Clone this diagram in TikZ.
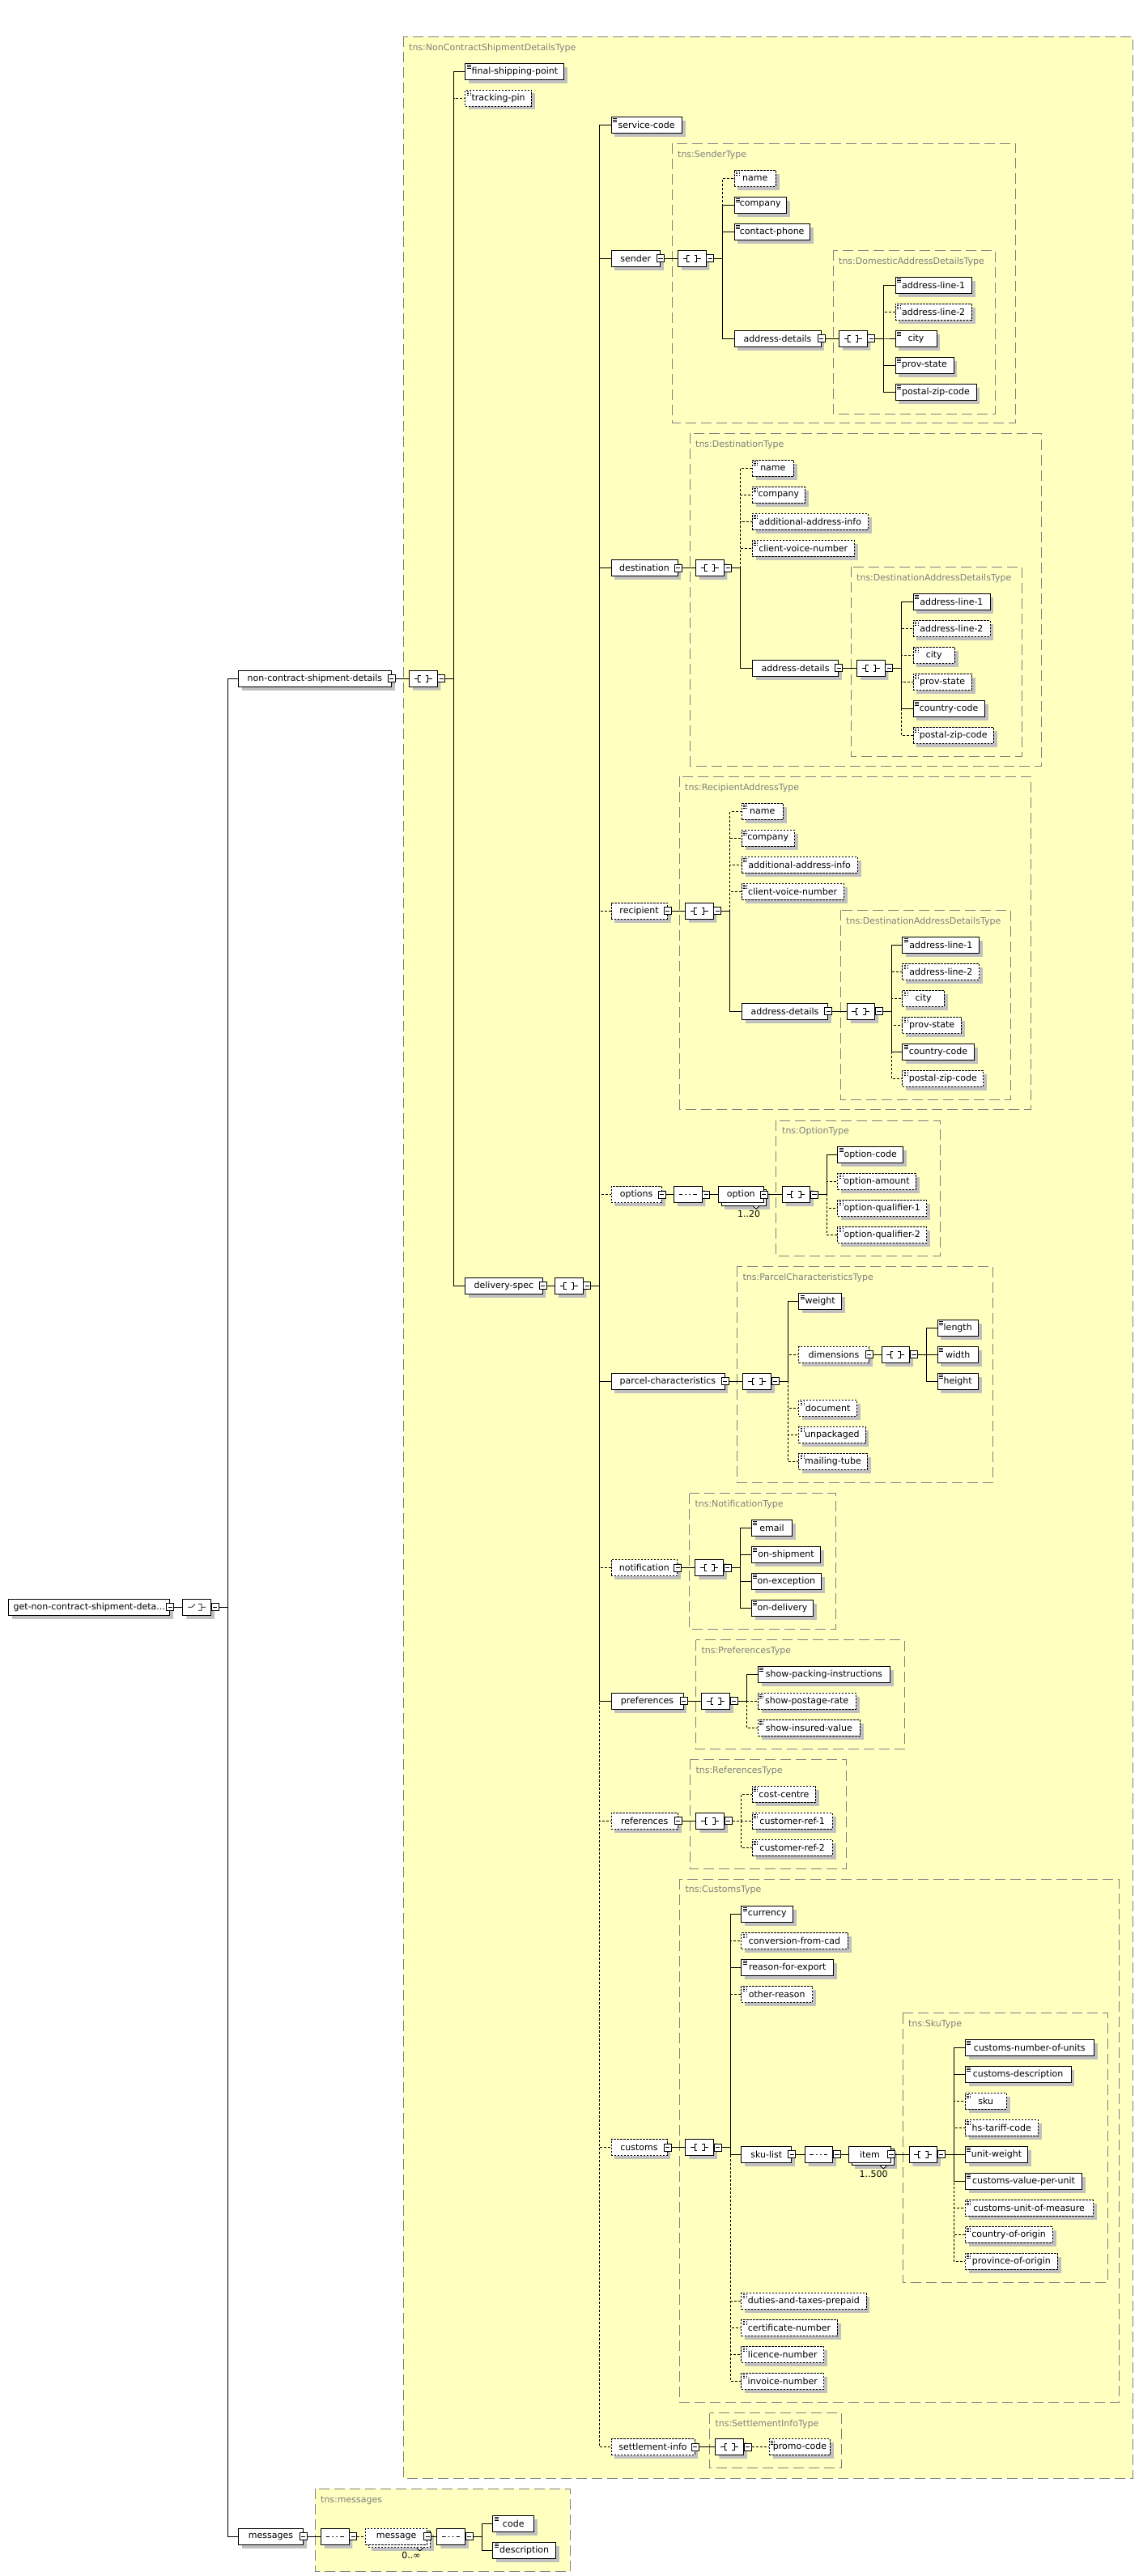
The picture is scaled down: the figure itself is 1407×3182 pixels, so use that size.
\documentclass[tikz,border=0pt]{standalone}
\usepackage{fontspec}
\setmainfont{DejaVu Sans}
\usepackage{xcolor}
\usepackage{tikz}
\usetikzlibrary{shapes.misc,shadows}
\definecolor{xsdyellow}{HTML}{FFFFC0}
\definecolor{xsdgray}{HTML}{808080}
\definecolor{xsdshade}{HTML}{C0C0C0}
\newcommand\xsdfont{\fontsize{11}{13}\selectfont}
\newcommand\leafmark{%
  \draw[line width=0.7pt] ([shift={(2pt,-2.2pt)}]path picture bounding box.north west) -- ++(5pt,0pt)
    ([shift={(2pt,-4.2pt)}]path picture bounding box.north west) -- ++(5pt,0pt)
    ([shift={(2pt,-6.2pt)}]path picture bounding box.north west) -- ++(5pt,0pt);}
\newcommand\togmark{%
  \draw[line width=0.8pt] ([xshift=-2.6pt]path picture bounding box.center) -- ([xshift=2.6pt]path picture bounding box.center);}
\newcommand\allglyph{%
  \begin{scope}[shift={(path picture bounding box.center)},x=1pt,y=1pt,line width=0.8pt]
    \draw (-11,0) -- (-6,0) (-3,4) -- (-6,4) -- (-6,-4) -- (-3,-4) (3,4) -- (6,4) -- (6,-4) -- (3,-4) (6,0) -- (11,0);
    \fill (-1.3,2.3) rectangle (1.3,4.9) (-1.3,-1.3) rectangle (1.3,1.3) (-1.3,-2.3) rectangle (1.3,-4.9);
  \end{scope}}
\newcommand\seqglyph{%
  \begin{scope}[shift={(path picture bounding box.center)},x=1pt,y=1pt,line width=0.8pt]
    \draw (-11,0) -- (11,0);
    \fill (-6.5,-1.6) rectangle (-3.3,1.6) (-1.6,-1.6) rectangle (1.6,1.6) (3.3,-1.6) rectangle (6.5,1.6);
  \end{scope}}
\newcommand\choiceglyph{%
  \begin{scope}[shift={(path picture bounding box.center)},x=1pt,y=1pt,line width=0.8pt]
    \draw (-11,0) -- (-6,0) -- (-2,4) (2,4) -- (6,4) -- (6,-4) -- (2,-4) (6,0) -- (11,0);
    \fill (-1,2.6) rectangle (1.6,5.2) (-1,-1.3) rectangle (1.6,1.3) (-1,-2.6) rectangle (1.6,-5.2);
  \end{scope}}
\begin{document}
\begin{tikzpicture}[
  x=1pt,y=-1pt,
  font=\xsdfont,
  elbox/.style={draw,fill=white,line width=0.9pt,minimum height=20pt,inner sep=0pt,anchor=west},
  elem/.style={elbox,drop shadow={shadow xshift=4.5pt,shadow yshift=-4.5pt,fill=xsdshade,opacity=1}},
  leaf/.style={elem,path picture={\leafmark}},
  optbox/.style={dash pattern=on 2.5pt off 1.5pt},
  tog/.style={draw,fill=white,line width=0.8pt,minimum size=9pt,inner sep=0pt,path picture={\togmark}},
  compo/.style={chamfered rectangle,chamfered rectangle xsep=5pt,chamfered rectangle ysep=5pt,draw,fill=white,line width=0.9pt,minimum width=34.5pt,minimum height=20pt,inner sep=0pt,anchor=west,drop shadow={shadow xshift=4.5pt,shadow yshift=-4.5pt,fill=xsdshade,opacity=1}},
  allc/.style={compo,path picture={\allglyph}},
  seqc/.style={compo,path picture={\seqglyph}},
  choc/.style={compo,path picture={\choiceglyph}},
  tbox/.style={draw=xsdgray,fill=xsdyellow,line width=0.9pt,dash pattern=on 13pt off 6pt},
  tlab/.style={anchor=west,text=xsdgray,inner sep=0pt},
  occ/.style={inner sep=0pt},
  link/.style={line width=0.9pt},
  olink/.style={link,dash pattern=on 3pt off 2pt}
]
\useasboundingbox (0,0) rectangle (1407,3182);
\fill[white] (0,0) rectangle (1407,3182);
\draw[tbox] (498,45) rectangle (1399,3061);
\node[tlab] (ty-ncsd) at (505,59) {tns:NonContractShipmentDetailsType};
\draw[tbox] (830.5,177) rectangle (1254.5,522);
\node[tlab] (ty-snd) at (837,191) {tns:SenderType};
\draw[tbox] (1029,309) rectangle (1229,511);
\node[tlab] (ty-sa) at (1036,323) {tns:DomesticAddressDetailsType};
\draw[tbox] (852.6,535) rectangle (1286.5,946);
\node[tlab] (ty-dst) at (859,549) {tns:DestinationType};
\draw[tbox] (1051,700) rectangle (1262,934);
\node[tlab] (ty-da) at (1058,714) {tns:DestinationAddressDetailsType};
\draw[tbox] (839.6,959) rectangle (1273,1370);
\node[tlab] (ty-rcp) at (846,973) {tns:RecipientAddressType};
\draw[tbox] (1038,1124) rectangle (1248.7,1358);
\node[tlab] (ty-ra) at (1045,1138) {tns:DestinationAddressDetailsType};
\draw[tbox] (958,1384) rectangle (1161,1551);
\node[tlab] (ty-opt) at (966,1397) {tns:OptionType};
\draw[tbox] (910.5,1564) rectangle (1226.4,1831);
\node[tlab] (ty-pcl) at (917.4,1578) {tns:ParcelCharacteristicsType};
\draw[tbox] (851.7,1844.7) rectangle (1032.3,2012.3);
\node[tlab] (ty-ntf) at (858.3,1858.3) {tns:NotificationType};
\draw[tbox] (859.7,2025.7) rectangle (1117.3,2160.3);
\node[tlab] (ty-prf) at (866.3,2039.3) {tns:PreferencesType};
\draw[tbox] (852.3,2173.3) rectangle (1045.7,2308.3);
\node[tlab] (ty-rfs) at (859.3,2187) {tns:ReferencesType};
\draw[tbox] (839.3,2321.3) rectangle (1382.5,2967.3);
\node[tlab] (ty-cst) at (846.3,2335) {tns:CustomsType};
\draw[tbox] (1115.4,2486.7) rectangle (1368.6,2819.3);
\node[tlab] (ty-sku) at (1122,2500) {tns:SkuType};
\draw[tbox] (876.7,2980.7) rectangle (1039.3,3048.7);
\node[tlab] (ty-stl) at (883.3,2994.3) {tns:SettlementInfoType};
\draw[tbox] (389.3,3074.3) rectangle (704.3,3176.7);
\node[tlab] (ty-msgs) at (396,3088.3) {tns:messages};

\node[elem,minimum width=199pt] (root) at (10.3,1985.3) {get-non-contract-shipment-deta...};
\node[tog] (root-t) at (root.east) {};
\node[choc] (root-c) at (225.3,1985.3) {};
\node[tog,anchor=west] (root-ct) at (root-c.east) {};

\node[elem,minimum width=188.4pt] (ncsd) at (294.3,838) {non-contract-shipment-details};
\node[tog] (ncsd-t) at (ncsd.east) {};
\node[allc] (ncsd-c) at (505,838) {};
\node[tog,anchor=west] (ncsd-ct) at (ncsd-c.east) {};
\node[leaf,minimum width=122pt] (fsp) at (574.4,88.5) {final-shipping-point};
\node[leaf,optbox,minimum width=81.6pt] (trk) at (574.4,121) {tracking-pin};
\node[elem,minimum width=95.1pt] (ds) at (574.4,1588.3) {delivery-spec};
\node[tog] (ds-t) at (ds.east) {};
\node[allc] (ds-c) at (685,1588.3) {};
\node[tog,anchor=west] (ds-ct) at (ds-c.east) {};

\node[leaf,minimum width=87.2pt] (svc) at (754.5,154) {service-code};
\node[elem,minimum width=60.5pt] (snd) at (754.5,319) {sender};
\node[tog] (snd-t) at (snd.east) {};
\node[elem,minimum width=82pt] (dst) at (754.5,701.7) {destination};
\node[tog] (dst-t) at (dst.east) {};
\node[elem,optbox,minimum width=69.3pt] (rcp) at (754.5,1125) {recipient};
\node[tog] (rcp-t) at (rcp.east) {};
\node[elem,optbox,minimum width=62.4pt] (opts) at (754.5,1475.7) {options};
\node[tog] (opts-t) at (opts.east) {};
\node[elem,minimum width=140pt] (pcl) at (754.5,1706.3) {parcel-characteristics};
\node[tog] (pcl-t) at (pcl.east) {};
\node[elem,optbox,minimum width=81.7pt] (ntf) at (754.5,1936.7) {notification};
\node[tog] (ntf-t) at (ntf.east) {};
\node[elem,minimum width=89pt] (prf) at (754.5,2101.3) {preferences};
\node[tog] (prf-t) at (prf.east) {};
\node[elem,optbox,minimum width=82.4pt] (rfs) at (754.5,2249.3) {references};
\node[tog] (rfs-t) at (rfs.east) {};
\node[elem,optbox,minimum width=69pt] (cst) at (754.5,2652.7) {customs};
\node[tog] (cst-t) at (cst.east) {};
\node[elem,optbox,minimum width=103pt] (stl) at (754.5,3022.7) {settlement-info};
\node[tog] (stl-t) at (stl.east) {};

\node[allc] (snd-c) at (837,319) {};
\node[tog,anchor=west] (snd-ct) at (snd-c.east) {};
\node[leaf,optbox,minimum width=51.5pt] (snd-name) at (906.5,220) {name};
\node[leaf,minimum width=64.5pt] (snd-comp) at (906.5,253) {company};
\node[leaf,minimum width=93.5pt] (snd-tel) at (906.5,286) {contact-phone};
\node[elem,minimum width=107pt] (snd-adr) at (906.5,418) {address-details};
\node[tog] (snd-adr-t) at (snd-adr.east) {};
\node[allc] (snd-adr-c) at (1036,418) {};
\node[tog,anchor=west] (snd-adr-ct) at (snd-adr-c.east) {};
\node[leaf,minimum width=94.5pt] (sa-l1) at (1105.5,352) {address-line-1};
\node[leaf,optbox,minimum width=94.5pt] (sa-l2) at (1105.5,385) {address-line-2};
\node[leaf,minimum width=51pt] (sa-city) at (1105.5,418) {city};
\node[leaf,minimum width=72pt] (sa-prov) at (1105.5,451) {prov-state};
\node[leaf,minimum width=100pt] (sa-zip) at (1105.5,484) {postal-zip-code};

\node[allc] (dst-c) at (859,701.7) {};
\node[tog,anchor=west] (dst-ct) at (dst-c.east) {};
\node[leaf,optbox,minimum width=51.2pt] (dst-name) at (928.8,578.3) {name};
\node[leaf,optbox,minimum width=65.2pt] (dst-comp) at (928.8,611.3) {company};
\node[leaf,optbox,minimum width=143pt] (dst-info) at (928.8,644.3) {additional-address-info};
\node[leaf,optbox,minimum width=126pt] (dst-cvn) at (928.8,677.3) {client-voice-number};
\node[elem,minimum width=106.6pt] (dst-adr) at (928.8,825.3) {address-details};
\node[tog] (dst-adr-t) at (dst-adr.east) {};
\node[allc] (dst-adr-c) at (1058,825.3) {};
\node[tog,anchor=west] (dst-adr-ct) at (dst-adr-c.east) {};
\node[leaf,minimum width=95pt] (da-l1) at (1127.5,743.3) {address-line-1};
\node[leaf,optbox,minimum width=95pt] (da-l2) at (1127.5,776.3) {address-line-2};
\node[leaf,optbox,minimum width=51.5pt] (da-city) at (1127.5,809.3) {city};
\node[leaf,optbox,minimum width=72.5pt] (da-prov) at (1127.5,842.3) {prov-state};
\node[leaf,minimum width=88.2pt] (da-ctry) at (1127.5,875.3) {country-code};
\node[leaf,optbox,minimum width=99.5pt] (da-zip) at (1127.5,908.3) {postal-zip-code};

\node[allc] (rcp-c) at (846,1125) {};
\node[tog,anchor=west] (rcp-ct) at (rcp-c.east) {};
\node[leaf,optbox,minimum width=51.3pt] (rcp-name) at (915.7,1002.3) {name};
\node[leaf,optbox,minimum width=65pt] (rcp-comp) at (915.7,1035.3) {company};
\node[leaf,optbox,minimum width=143pt] (rcp-info) at (915.7,1068.3) {additional-address-info};
\node[leaf,optbox,minimum width=126pt] (rcp-cvn) at (915.7,1101.3) {client-voice-number};
\node[elem,minimum width=106.6pt] (rcp-adr) at (915.7,1249.3) {address-details};
\node[tog] (rcp-adr-t) at (rcp-adr.east) {};
\node[allc] (rcp-adr-c) at (1045.6,1249.3) {};
\node[tog,anchor=west] (rcp-adr-ct) at (rcp-adr-c.east) {};
\node[leaf,minimum width=95pt] (ra-l1) at (1114.4,1167.3) {address-line-1};
\node[leaf,optbox,minimum width=95pt] (ra-l2) at (1114.4,1200.3) {address-line-2};
\node[leaf,optbox,minimum width=51.5pt] (ra-city) at (1114.4,1233.3) {city};
\node[leaf,optbox,minimum width=72.5pt] (ra-prov) at (1114.4,1266.3) {prov-state};
\node[leaf,minimum width=88.2pt] (ra-ctry) at (1114.4,1299.3) {country-code};
\node[leaf,optbox,minimum width=100pt] (ra-zip) at (1114.4,1332.3) {postal-zip-code};

\node[seqc] (opts-c) at (832,1475.7) {};
\node[tog,anchor=west] (opts-ct) at (opts-c.east) {};
\node[elem,minimum width=55.7pt] (opt-b) at (890.5,1479.2) {};
\draw[link,fill=white] ([xshift=-17pt]opt-b.south east) -- ++(4,3.5) -- ++(4,-3.5);
\node[elbox,minimum width=55.7pt] (opt) at (887,1475.7) {option};
\node[tog] (opt-t) at (opt.east) {};
\node[occ] (opt-n) at (925,1499) {1..20};
\node[allc] (opt-c) at (965.7,1475.7) {};
\node[tog,anchor=west] (opt-ct) at (opt-c.east) {};
\node[leaf,minimum width=81pt] (opt-code) at (1034.3,1426.3) {option-code};
\node[leaf,optbox,minimum width=96.4pt] (opt-amt) at (1034.3,1459.3) {option-amount};
\node[leaf,optbox,minimum width=110pt] (opt-q1) at (1034.3,1492.3) {option-qualifier-1};
\node[leaf,optbox,minimum width=110pt] (opt-q2) at (1034.3,1525.3) {option-qualifier-2};

\node[allc] (pcl-c) at (917.4,1706.3) {};
\node[tog,anchor=west] (pcl-ct) at (pcl-c.east) {};
\node[leaf,minimum width=52.7pt] (pcl-wt) at (986.3,1607.7) {weight};
\node[elem,optbox,minimum width=86.3pt] (dim) at (986.3,1673.3) {dimensions};
\node[tog] (dim-t) at (dim.east) {};
\node[leaf,optbox,minimum width=71.7pt] (pcl-doc) at (986.3,1739.3) {document};
\node[leaf,optbox,minimum width=82.2pt] (pcl-unp) at (986.3,1772.3) {unpackaged};
\node[leaf,optbox,minimum width=84.5pt] (pcl-tube) at (986.3,1805.3) {mailing-tube};
\node[allc] (dim-c) at (1088.7,1673.3) {};
\node[tog,anchor=west] (dim-ct) at (dim-c.east) {};
\node[leaf,minimum width=50.5pt] (dim-l) at (1157.5,1640.3) {length};
\node[leaf,minimum width=50.5pt] (dim-w) at (1157.5,1673.3) {width};
\node[leaf,minimum width=50.5pt] (dim-h) at (1157.5,1706.3) {height};

\node[allc] (ntf-c) at (858.3,1936.7) {};
\node[tog,anchor=west] (ntf-ct) at (ntf-c.east) {};
\node[leaf,minimum width=50.6pt] (ntf-mail) at (927.7,1887.3) {email};
\node[leaf,minimum width=85.6pt] (ntf-shp) at (927.7,1920.3) {on-shipment};
\node[leaf,minimum width=86.6pt] (ntf-exc) at (927.7,1953.3) {on-exception};
\node[leaf,minimum width=76.6pt] (ntf-dlv) at (927.7,1986.3) {on-delivery};

\node[allc] (prf-c) at (866.3,2101.3) {};
\node[tog,anchor=west] (prf-ct) at (prf-c.east) {};
\node[leaf,minimum width=163.6pt] (prf-pack) at (935.7,2068.3) {show-packing-instructions};
\node[leaf,optbox,minimum width=121pt] (prf-rate) at (935.7,2101.3) {show-postage-rate};
\node[leaf,optbox,minimum width=126.3pt] (prf-ins) at (935.7,2134.3) {show-insured-value};

\node[allc] (rfs-c) at (859.3,2249.3) {};
\node[tog,anchor=west] (rfs-ct) at (rfs-c.east) {};
\node[leaf,optbox,minimum width=78.6pt] (rfs-cc) at (928.7,2216.3) {cost-centre};
\node[leaf,optbox,minimum width=99pt] (rfs-r1) at (928.7,2249.3) {customer-ref-1};
\node[leaf,optbox,minimum width=99pt] (rfs-r2) at (928.7,2282.3) {customer-ref-2};

\node[allc] (cst-c) at (846.4,2652.7) {};
\node[tog,anchor=west] (cst-ct) at (cst-c.east) {};
\node[leaf,minimum width=64pt] (cst-cur) at (915.3,2364.3) {currency};
\node[leaf,optbox,minimum width=131.4pt] (cst-conv) at (915.3,2397.3) {conversion-from-cad};
\node[leaf,minimum width=114pt] (cst-rsn) at (915.3,2430.3) {reason-for-export};
\node[leaf,optbox,minimum width=88pt] (cst-oth) at (915.3,2463.3) {other-reason};
\node[elem,minimum width=62pt] (skul) at (915.3,2661.3) {sku-list};
\node[tog] (skul-t) at (skul.east) {};
\node[leaf,optbox,minimum width=154.2pt] (cst-dtp) at (915.3,2842.3) {duties-and-taxes-prepaid};
\node[leaf,optbox,minimum width=118.4pt] (cst-cert) at (915.3,2875.3) {certificate-number};
\node[leaf,optbox,minimum width=102pt] (cst-lic) at (915.3,2908.3) {licence-number};
\node[leaf,optbox,minimum width=102pt] (cst-inv) at (915.3,2941.3) {invoice-number};
\node[seqc] (skul-c) at (993.6,2661.3) {};
\node[tog,anchor=west] (skul-ct) at (skul-c.east) {};
\node[elem,minimum width=52pt] (item-b) at (1051.5,2664.8) {};
\draw[link,fill=white] ([xshift=-17pt]item-b.south east) -- ++(4,3.5) -- ++(4,-3.5);
\node[elbox,minimum width=52pt] (item) at (1048,2661.3) {item};
\node[tog] (item-t) at (item.east) {};
\node[occ] (item-n) at (1079,2685) {1..500};
\node[allc] (item-c) at (1122.5,2661.3) {};
\node[tog,anchor=west] (item-ct) at (item-c.east) {};
\node[leaf,minimum width=159pt] (sku-nou) at (1191.8,2529.3) {customs-number-of-units};
\node[leaf,minimum width=130.7pt] (sku-desc) at (1191.8,2562.3) {customs-description};
\node[leaf,optbox,minimum width=51pt] (sku-sku) at (1191.8,2595.3) {sku};
\node[leaf,optbox,minimum width=90pt] (sku-hs) at (1191.8,2628.3) {hs-tariff-code};
\node[leaf,minimum width=77.5pt] (sku-uw) at (1191.8,2661.3) {unit-weight};
\node[leaf,minimum width=144.6pt] (sku-vpu) at (1191.8,2694.3) {customs-value-per-unit};
\node[leaf,optbox,minimum width=157.8pt] (sku-uom) at (1191.8,2727.3) {customs-unit-of-measure};
\node[leaf,optbox,minimum width=107.8pt] (sku-coo) at (1191.8,2760.3) {country-of-origin};
\node[leaf,optbox,minimum width=114.2pt] (sku-poo) at (1191.8,2793.3) {province-of-origin};

\node[allc] (stl-c) at (883.3,3022.7) {};
\node[tog,anchor=west] (stl-ct) at (stl-c.east) {};
\node[leaf,optbox,minimum width=75pt] (stl-promo) at (950,3022.7) {promo-code};

\node[elem,minimum width=79.4pt] (msgs) at (294.3,3133.3) {messages};
\node[tog] (msgs-t) at (msgs.east) {};
\node[seqc] (msgs-c) at (396,3133.3) {};
\node[tog,anchor=west] (msgs-ct) at (msgs-c.east) {};
\node[elem,optbox,minimum width=76.3pt] (msg-b) at (454.5,3136.8) {};
\draw[link,fill=white] ([xshift=-17pt]msg-b.south east) -- ++(4,3.5) -- ++(4,-3.5);
\node[elbox,optbox,minimum width=76.3pt] (msg) at (451,3133.3) {message};
\node[tog] (msg-t) at (msg.east) {};
\node[occ] (msg-n) at (508,3156.7) {0..∞};
\node[seqc] (msg-c) at (539.3,3133.3) {};
\node[tog,anchor=west] (msg-ct) at (msg-c.east) {};
\node[leaf,minimum width=51pt] (msg-code) at (608.3,3117.3) {code};
\node[leaf,minimum width=77.7pt] (msg-desc) at (608.3,3150.3) {description};

\draw[link] (root-t) -- (root-c);
\draw[link] (root-ct.east) -- ++(10.5,0) |- (ncsd.west);
\draw[link] (root-ct.east) -- ++(10.5,0) |- (msgs.west);

\draw[link] (ncsd-t) -- (ncsd-c);
\draw[olink] (ncsd-ct.east) -- ++(10.5,0) |- (trk.west);
\draw[link] (ncsd-ct.east) -- ++(10.5,0) |- (fsp.west);
\draw[link] (ncsd-ct.east) -- ++(10.5,0) |- (ds.west);

\draw[link] (ds-t) -- (ds-c);
\draw[olink] (ds-ct.east) -- ++(10.5,0) |- (rcp.west);
\draw[olink] (ds-ct.east) -- ++(10.5,0) |- (opts.west);
\draw[olink] (ds-ct.east) -- ++(10.5,0) |- (ntf.west);
\draw[olink] (ds-ct.east) -- ++(10.5,0) |- (rfs.west);
\draw[olink] (ds-ct.east) -- ++(10.5,0) |- (cst.west);
\draw[olink] (ds-ct.east) -- ++(10.5,0) |- (stl.west);
\draw[link] (ds-ct.east) -- ++(10.5,0) |- (svc.west);
\draw[link] (ds-ct.east) -- ++(10.5,0) |- (snd.west);
\draw[link] (ds-ct.east) -- ++(10.5,0) |- (dst.west);
\draw[link] (ds-ct.east) -- ++(10.5,0) |- (pcl.west);
\draw[link] (ds-ct.east) -- ++(10.5,0) |- (prf.west);

\draw[link] (snd-t) -- (snd-c);
\draw[olink] (snd-ct.east) -- ++(10.5,0) |- (snd-name.west);
\draw[link] (snd-ct.east) -- ++(10.5,0) |- (snd-comp.west);
\draw[link] (snd-ct.east) -- ++(10.5,0) |- (snd-tel.west);
\draw[link] (snd-ct.east) -- ++(10.5,0) |- (snd-adr.west);
\draw[link] (snd-adr-t) -- (snd-adr-c);
\draw[olink] (snd-adr-ct.east) -- ++(10.5,0) |- (sa-l2.west);
\draw[link] (snd-adr-ct.east) -- ++(10.5,0) |- (sa-l1.west);
\draw[link] (snd-adr-ct.east) -- ++(10.5,0) |- (sa-city.west);
\draw[link] (snd-adr-ct.east) -- ++(10.5,0) |- (sa-prov.west);
\draw[link] (snd-adr-ct.east) -- ++(10.5,0) |- (sa-zip.west);

\draw[link] (dst-t) -- (dst-c);
\draw[olink] (dst-ct.east) -- ++(10.5,0) |- (dst-name.west);
\draw[olink] (dst-ct.east) -- ++(10.5,0) |- (dst-comp.west);
\draw[olink] (dst-ct.east) -- ++(10.5,0) |- (dst-info.west);
\draw[olink] (dst-ct.east) -- ++(10.5,0) |- (dst-cvn.west);
\draw[link] (dst-ct.east) -- ++(10.5,0) |- (dst-adr.west);
\draw[link] (dst-adr-t) -- (dst-adr-c);
\draw[olink] (dst-adr-ct.east) -- ++(10.5,0) |- (da-l2.west);
\draw[olink] (dst-adr-ct.east) -- ++(10.5,0) |- (da-city.west);
\draw[olink] (dst-adr-ct.east) -- ++(10.5,0) |- (da-prov.west);
\draw[olink] (dst-adr-ct.east) -- ++(10.5,0) |- (da-zip.west);
\draw[link] (dst-adr-ct.east) -- ++(10.5,0) |- (da-l1.west);
\draw[link] (dst-adr-ct.east) -- ++(10.5,0) |- (da-ctry.west);

\draw[link] (rcp-t) -- (rcp-c);
\draw[olink] (rcp-ct.east) -- ++(10.5,0) |- (rcp-name.west);
\draw[olink] (rcp-ct.east) -- ++(10.5,0) |- (rcp-comp.west);
\draw[olink] (rcp-ct.east) -- ++(10.5,0) |- (rcp-info.west);
\draw[olink] (rcp-ct.east) -- ++(10.5,0) |- (rcp-cvn.west);
\draw[link] (rcp-ct.east) -- ++(10.5,0) |- (rcp-adr.west);
\draw[link] (rcp-adr-t) -- (rcp-adr-c);
\draw[olink] (rcp-adr-ct.east) -- ++(10.5,0) |- (ra-l2.west);
\draw[olink] (rcp-adr-ct.east) -- ++(10.5,0) |- (ra-city.west);
\draw[olink] (rcp-adr-ct.east) -- ++(10.5,0) |- (ra-prov.west);
\draw[olink] (rcp-adr-ct.east) -- ++(10.5,0) |- (ra-zip.west);
\draw[link] (rcp-adr-ct.east) -- ++(10.5,0) |- (ra-l1.west);
\draw[link] (rcp-adr-ct.east) -- ++(10.5,0) |- (ra-ctry.west);

\draw[link] (opts-t) -- (opts-c);
\draw[link] (opts-ct) -- (opt);
\draw[link] (opt-t) -- (opt-c);
\draw[olink] (opt-ct.east) -- ++(10.5,0) |- (opt-amt.west);
\draw[olink] (opt-ct.east) -- ++(10.5,0) |- (opt-q1.west);
\draw[olink] (opt-ct.east) -- ++(10.5,0) |- (opt-q2.west);
\draw[link] (opt-ct.east) -- ++(10.5,0) |- (opt-code.west);

\draw[link] (pcl-t) -- (pcl-c);
\draw[olink] (pcl-ct.east) -- ++(10.5,0) |- (dim.west);
\draw[olink] (pcl-ct.east) -- ++(10.5,0) |- (pcl-doc.west);
\draw[olink] (pcl-ct.east) -- ++(10.5,0) |- (pcl-unp.west);
\draw[olink] (pcl-ct.east) -- ++(10.5,0) |- (pcl-tube.west);
\draw[link] (pcl-ct.east) -- ++(10.5,0) |- (pcl-wt.west);
\draw[link] (dim-t) -- (dim-c);
\draw[link] (dim-ct.east) -- ++(10.5,0) |- (dim-l.west);
\draw[link] (dim-ct.east) -- ++(10.5,0) |- (dim-w.west);
\draw[link] (dim-ct.east) -- ++(10.5,0) |- (dim-h.west);

\draw[link] (ntf-t) -- (ntf-c);
\draw[link] (ntf-ct.east) -- ++(10.5,0) |- (ntf-mail.west);
\draw[link] (ntf-ct.east) -- ++(10.5,0) |- (ntf-shp.west);
\draw[link] (ntf-ct.east) -- ++(10.5,0) |- (ntf-exc.west);
\draw[link] (ntf-ct.east) -- ++(10.5,0) |- (ntf-dlv.west);

\draw[link] (prf-t) -- (prf-c);
\draw[olink] (prf-ct.east) -- ++(10.5,0) |- (prf-rate.west);
\draw[olink] (prf-ct.east) -- ++(10.5,0) |- (prf-ins.west);
\draw[link] (prf-ct.east) -- ++(10.5,0) |- (prf-pack.west);

\draw[link] (rfs-t) -- (rfs-c);
\draw[olink] (rfs-ct.east) -- ++(10.5,0) |- (rfs-cc.west);
\draw[olink] (rfs-ct.east) -- ++(10.5,0) |- (rfs-r1.west);
\draw[olink] (rfs-ct.east) -- ++(10.5,0) |- (rfs-r2.west);

\draw[link] (cst-t) -- (cst-c);
\draw[olink] (cst-ct.east) -- ++(10.5,0) |- (cst-conv.west);
\draw[olink] (cst-ct.east) -- ++(10.5,0) |- (cst-oth.west);
\draw[olink] (cst-ct.east) -- ++(10.5,0) |- (cst-dtp.west);
\draw[olink] (cst-ct.east) -- ++(10.5,0) |- (cst-cert.west);
\draw[olink] (cst-ct.east) -- ++(10.5,0) |- (cst-lic.west);
\draw[olink] (cst-ct.east) -- ++(10.5,0) |- (cst-inv.west);
\draw[link] (cst-ct.east) -- ++(10.5,0) |- (cst-cur.west);
\draw[link] (cst-ct.east) -- ++(10.5,0) |- (cst-rsn.west);
\draw[link] (cst-ct.east) -- ++(10.5,0) |- (skul.west);
\draw[link] (skul-t) -- (skul-c);
\draw[link] (skul-ct) -- (item);
\draw[link] (item-t) -- (item-c);
\draw[olink] (item-ct.east) -- ++(10.5,0) |- (sku-sku.west);
\draw[olink] (item-ct.east) -- ++(10.5,0) |- (sku-hs.west);
\draw[olink] (item-ct.east) -- ++(10.5,0) |- (sku-uom.west);
\draw[olink] (item-ct.east) -- ++(10.5,0) |- (sku-coo.west);
\draw[olink] (item-ct.east) -- ++(10.5,0) |- (sku-poo.west);
\draw[link] (item-ct.east) -- ++(10.5,0) |- (sku-nou.west);
\draw[link] (item-ct.east) -- ++(10.5,0) |- (sku-desc.west);
\draw[link] (item-ct.east) -- ++(10.5,0) |- (sku-uw.west);
\draw[link] (item-ct.east) -- ++(10.5,0) |- (sku-vpu.west);

\draw[link] (stl-t) -- (stl-c);
\draw[olink] (stl-ct.east) -- ++(10.5,0) |- (stl-promo.west);

\draw[link] (msgs-t) -- (msgs-c);
\draw[olink] (msgs-ct) -- (msg);
\draw[link] (msg-t) -- (msg-c);
\draw[link] (msg-ct.east) -- ++(10.5,0) |- (msg-code.west);
\draw[link] (msg-ct.east) -- ++(10.5,0) |- (msg-desc.west);
\end{tikzpicture}
\end{document}
